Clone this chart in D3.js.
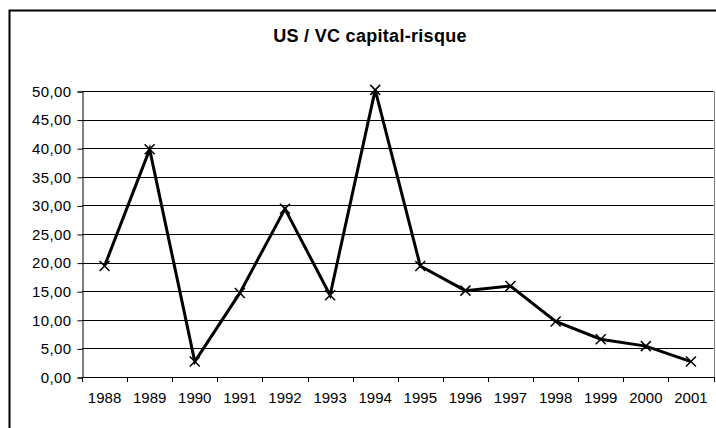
<!DOCTYPE html>
<html><head><meta charset="utf-8">
<script src="https://cdn.jsdelivr.net/npm/d3@7"></script>
<style>body{margin:0;background:#fff;}svg{display:block;font-family:"Liberation Sans",Arial,sans-serif;}</style>
</head><body>
<script>
const title = "US / VC capital-risque";
const years = ["1988","1989","1990","1991","1992","1993","1994","1995","1996","1997","1998","1999","2000","2001"];
const values = [19.4, 39.8, 2.7, 14.7, 29.4, 14.3, 50.2, 19.4, 15.1, 15.9, 9.7, 6.6, 5.4, 2.7];
const yTicks = [0,5,10,15,20,25,30,35,40,45,50];

const W = 716, H = 428;
const svg = d3.select("body").append("svg").attr("width", W).attr("height", H);
svg.append("rect").attr("width", W).attr("height", H).attr("fill", "#fff");
// outer chart border
svg.append("rect").attr("x", 9.5).attr("y", 10.5).attr("width", 740).attr("height", 440)
  .attr("fill", "none").attr("stroke", "#000").attr("stroke-width", 2);

const pLeft = 82, pRight = 713.5, pTop = 91, pBottom = 377;
const x = d3.scaleBand().domain(years).range([pLeft, pRight]);
const y = d3.scaleLinear().domain([0, 50]).range([pBottom, pTop]);

svg.append("text").attr("x", 370).attr("y", 42).attr("text-anchor", "middle")
  .attr("font-size", 18).attr("font-weight", "bold").attr("letter-spacing", 0.3).text(title);

// gridlines
svg.append("g").selectAll("line").data(yTicks.filter(d => d > 0)).join("line")
  .attr("x1", pLeft).attr("x2", pRight)
  .attr("y1", d => Math.round(y(d)) + 0.5).attr("y2", d => Math.round(y(d)) + 0.5)
  .attr("stroke", "#000").attr("stroke-width", 1);
// plot border right
svg.append("line").attr("x1", Math.round(pRight) + 0.5).attr("x2", Math.round(pRight) + 0.5)
  .attr("y1", Math.round(pTop) + 0.5).attr("y2", pBottom).attr("stroke", "#808080");

const fmt = d => d3.format(".2f")(d).replace(".", ",");
const yAxis = d3.axisLeft(y).tickValues(yTicks).tickFormat(fmt).tickSize(5).tickPadding(6);
const gy = svg.append("g").attr("transform", `translate(${pLeft + 0.5},0.5)`).call(yAxis);
gy.selectAll("text").attr("font-size", 15).attr("fill", "#000").attr("letter-spacing", 0.4).style("font-family", "Liberation Sans, Arial");
gy.selectAll("line,path").attr("stroke", "#000");

const xAxis = d3.axisBottom(x).tickSize(0).tickPadding(15);
const gx = svg.append("g").attr("transform", `translate(0,${pBottom + 0.5})`).call(xAxis);
gx.select(".domain").remove();
gx.selectAll("text").attr("font-size", 15).attr("fill", "#000").style("font-family", "Liberation Sans, Arial");
svg.append("line").attr("x1", pLeft).attr("x2", pRight + 1).attr("y1", pBottom + 0.5).attr("y2", pBottom + 0.5).attr("stroke", "#000");
const tickPos = years.map(d => x(d)).concat([pRight]);
svg.append("g").selectAll("line").data(tickPos).join("line")
  .attr("x1", d => Math.round(d) + 0.5).attr("x2", d => Math.round(d) + 0.5)
  .attr("y1", pBottom).attr("y2", pBottom + 5).attr("stroke", "#000");

// line
const line = d3.line().x((d, i) => x(years[i]) + x.bandwidth() / 2).y(d => y(d));
svg.append("path").datum(values).attr("d", line).attr("fill", "none")
  .attr("stroke", "#000").attr("stroke-width", 3).attr("stroke-linejoin", "miter");

// markers
const s = 5;
svg.append("g").selectAll("path").data(values).join("path")
  .attr("d", (d, i) => {
    const cx = x(years[i]) + x.bandwidth() / 2, cy = y(d);
    return `M${cx - s},${cy - s}L${cx + s},${cy + s}M${cx - s},${cy + s}L${cx + s},${cy - s}`;
  })
  .attr("stroke", "#000").attr("stroke-width", 1.5).attr("fill", "none");
</script>
</body></html>
